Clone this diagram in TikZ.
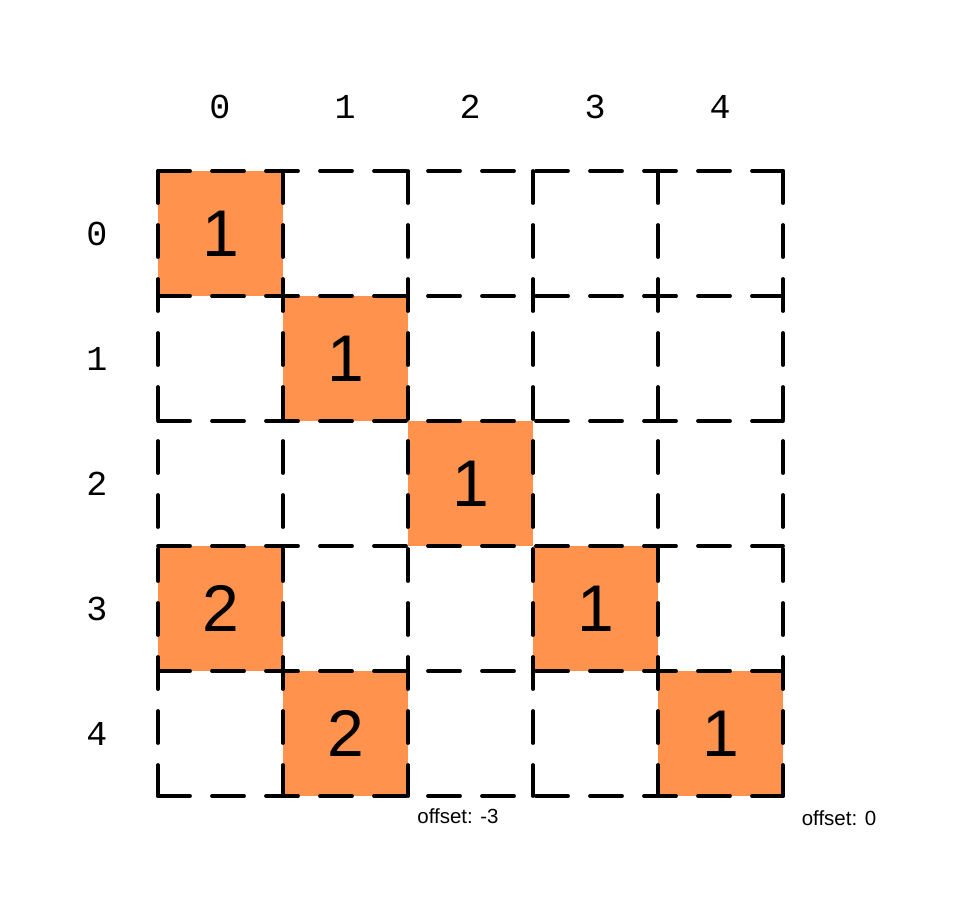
\documentclass[tikz,border=0pt]{standalone}
\usepackage{fontspec}
\setmainfont{Liberation Sans}
\newfontfamily\monofam{Liberation Mono}
\definecolor{cellorange}{RGB}{255,146,77}
\begin{document}
\begin{tikzpicture}[x=1pt,y=-1pt,
  gridline/.style={draw=black,line width=3.8pt,line cap=round,dash pattern=on 32pt off 22pt},
  fillcell/.style={fill=cellorange},
  valtext/.style={font=\fontsize{66}{66}\selectfont,text=black},
  idxtext/.style={font=\monofam\fontsize{35}{35}\selectfont,text=black},
  offtext/.style={font=\fontsize{20.5}{21}\selectfont,text=black}]
\useasboundingbox[fill=white] (0,0) rectangle (962,916);
% orange fills
\foreach \r/\c in {0/0,1/1,2/2,3/0,3/3,4/1,4/4}{
  \fill[fillcell] ({158+125*\c},{171+125*\r}) rectangle ({158+125*(\c+1)},{171+125*(\r+1)});
}
% dashed grid lines
\foreach \i in {0,...,5}{
  \coordinate (h\i a) at (158,{171+125*\i});
  \coordinate (h\i b) at (783,{171+125*\i});
  \coordinate (v\i a) at ({158+125*\i},171);
  \coordinate (v\i b) at ({158+125*\i},796);
  \draw[gridline] (h\i a) -- (h\i b);
  \draw[gridline] (v\i a) -- (v\i b);
}
% values
\node[valtext] (v00) at (220.5,233.5) {1};
\node[valtext] (v11) at (345.5,358.5) {1};
\node[valtext] (v22) at (470.5,483.5) {1};
\node[valtext] (v30) at (220.5,608.5) {2};
\node[valtext] (v33) at (595.5,608.5) {1};
\node[valtext] (v41) at (345.5,733.5) {2};
\node[valtext] (v44) at (720.5,733.5) {1};
% column labels
\foreach \c in {0,...,4}{
  \node[idxtext] (col\c) at ({220+125*\c},107) {\c};
}
% row labels
\foreach \r in {0,...,4}{
  \node[idxtext] (row\r) at (97,{234+125*\r}) {\r};
}
% offsets
\node[offtext] (off3) at (458,816) {offset: -3};
\node[offtext] (off0) at (839,818) {offset: 0};
\end{tikzpicture}
\end{document}
